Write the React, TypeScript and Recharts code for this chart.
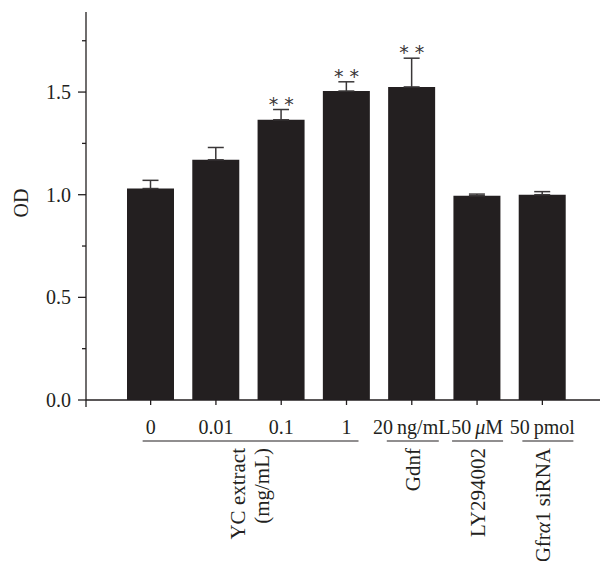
import { Bar, ComposedChart, ErrorBar, Line, XAxis, YAxis } from 'recharts'

const categories = ['0', '0.01', '0.1', '1', '20\u2009ng/mL', '50\u2009μM', '50\u2009pmol']
const odMeans = [1.03, 1.17, 1.365, 1.505, 1.525, 0.995, 1.0]
const odErrors = [0.04, 0.06, 0.05, 0.045, 0.14, 0.008, 0.015]
const significant = [false, false, true, true, true, false, false]
const yTicks = [0, 0.25, 0.5, 0.75, 1, 1.25, 1.5, 1.75]
const groupLabels = [['YC extract', '(mg/mL)'], ['Gdnf'], ['LY294002'], ['Gfrα1 siRNA']]
const groupFirst = [0, 4, 5, 6]
const groupLast = [3, 4, 5, 6]

const data = categories.map((name, i) => ({
  name,
  od: odMeans[i],
  err: [0, odErrors[i]],
  star: significant[i] ? odMeans[i] + odErrors[i] : null,
}))

const W = 600
const H = 561
const Y_W = 86
const PAD_L = 32
const PAD_R = 25
const BAND = (W - Y_W - PAD_L - PAD_R) / categories.length
const INK = '#231f20'
const FONT = '"Liberation Serif", "Times New Roman", serif'
const FS = 20
// underline extents around each group (px from first / last tick)
const UNDERLINE = [
  [-8, 12],
  [-25, 27],
  [-25, 26],
  [-20, 31],
]

function rich(text: string) {
  return text.split(/([αμ])/).map((part, k) =>
    part === 'α' || part === 'μ' ? (
      <tspan key={k} fontStyle="italic">
        {part}
      </tspan>
    ) : (
      <tspan key={k}>{part}</tspan>
    )
  )
}

function YTick({ x, y, payload }: any) {
  const v = payload.value as number
  const major = Math.abs(v * 2 - Math.round(v * 2)) < 1e-6
  return (
    <g>
      <line x1={x - (major ? 8 : 4)} x2={x} y1={y} y2={y} stroke={INK} strokeWidth={1.3} />
      {v === 0 && <line x1={x} x2={x} y1={y} y2={y + 7} stroke={INK} strokeWidth={1.3} />}
      {major && (
        <text x={x - 15} y={y} dy="0.34em" textAnchor="end" fontFamily={FONT} fontSize={FS} fill={INK}>
          {v.toFixed(1)}
        </text>
      )}
    </g>
  )
}

function XTick({ x, y, payload, index }: any) {
  const g = groupFirst.indexOf(index)
  let group = null
  if (g >= 0) {
    const span = (groupLast[g] - groupFirst[g]) * BAND
    const center = x + span / 2
    const lines = groupLabels[g]
    group = (
      <g>
        <line
          x1={x + UNDERLINE[g][0]}
          x2={x + span + UNDERLINE[g][1]}
          y1={y + 41}
          y2={y + 41}
          stroke={INK}
          strokeWidth={1.2}
        />
        {lines.map((t, k) => {
          const bx = center + (k - (lines.length - 1) / 2) * 24 + 8
          return (
            <text
              key={k}
              transform={`translate(${bx},${y + 48}) rotate(-90)`}
              textAnchor="end"
              fontFamily={FONT}
              fontSize={FS + 1}
              fill={INK}
            >
              {rich(t)}
            </text>
          )
        })}
      </g>
    )
  }
  return (
    <g>
      <line x1={x} x2={x} y1={y} y2={y + 5} stroke={INK} strokeWidth={1.3} />
      <text x={x} y={y + 34} textAnchor="middle" fontFamily={FONT} fontSize={FS} fill={INK}>
        {rich(String(payload.value))}
      </text>
      {group}
    </g>
  )
}

function StarDot({ cx, cy, payload }: any) {
  if (payload.star == null || cy == null) return <g />
  return (
    <text
      x={cx}
      y={cy + 1}
      textAnchor="middle"
      fontFamily='"DejaVu Sans", sans-serif'
      fontSize={19}
      fill="#3a3738"
    >
      * *
    </text>
  )
}

function OdLabel({ viewBox }: any) {
  const cy = viewBox.y + viewBox.height / 2 - 3
  return (
    <text
      transform={`translate(28,${cy}) rotate(-90)`}
      textAnchor="middle"
      fontFamily={FONT}
      fontSize={FS}
      fill={INK}
    >
      OD
    </text>
  )
}

export default function App() {
  return (
    <div style={{ position: 'absolute', left: 0, top: 0, background: '#fff' }}>
      <ComposedChart
        width={W}
        height={H}
        data={data}
        margin={{ top: 12, right: 0, bottom: 0, left: 0 }}
      >
        <XAxis
          dataKey="name"
          type="category"
          padding={{ left: PAD_L, right: PAD_R }}
          height={H - 400}
          tickSize={0}
          tickMargin={0}
          tickLine={false}
          axisLine={{ stroke: INK, strokeWidth: 1.3 }}
          tick={<XTick />}
          interval={0}
        />
        <YAxis
          width={Y_W}
          domain={[0, 1.89]}
          ticks={yTicks}
          allowDataOverflow
          tickSize={0}
          tickMargin={0}
          tickLine={false}
          axisLine={{ stroke: INK, strokeWidth: 1.3 }}
          tick={<YTick />}
          interval={0}
          label={{ content: <OdLabel /> }}
        />
        <Bar dataKey="od" fill={INK} barSize={47} isAnimationActive={false}>
          <ErrorBar dataKey="err" width={8} stroke="#3a3738" strokeWidth={1.5} direction="y" />
        </Bar>
        <Line
          dataKey="star"
          stroke="none"
          dot={<StarDot />}
          activeDot={false}
          connectNulls={false}
          isAnimationActive={false}
        />
      </ComposedChart>
    </div>
  )
}
